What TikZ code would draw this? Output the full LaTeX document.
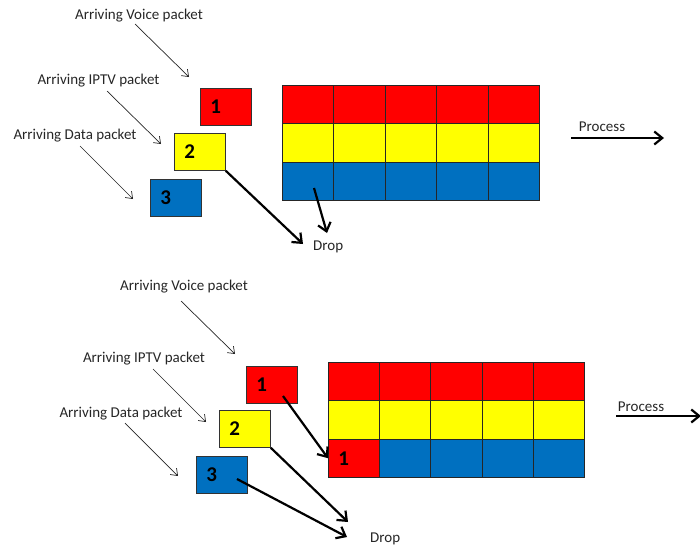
\documentclass[tikz,border=0pt]{standalone}
\usepackage{fontspec}
\setmainfont{Carlito}
\usetikzlibrary{arrows.meta}
\definecolor{pred}{HTML}{FF0000}
\definecolor{pyel}{HTML}{FFFF00}
\definecolor{pblu}{HTML}{0070C0}
\definecolor{txt}{HTML}{262626}
\begin{document}
\begin{tikzpicture}[x=1pt,y=-1pt,
  lbl/.style={font=\fontsize{15}{17}\selectfont, text=txt, inner sep=0pt},
  pkt/.style={draw=black!80, line width=0.8pt, anchor=north west, minimum width=51pt, minimum height=37pt,
     inner xsep=10pt, inner ysep=0pt, text width=31pt, align=left, font=\fontsize{21}{21}\bfseries, text=black},
  cell/.style={draw=black!85, line width=0.9pt, anchor=north west, minimum width=51.4pt, minimum height=38.3pt,
     inner xsep=10pt, inner ysep=0pt, text width=31.4pt, align=left, font=\fontsize{21}{21}\bfseries, text=black},
  thin/.style={line width=0.7pt, draw=txt, -{Straight Barb[length=6pt,width=9pt]}},
  thick/.style={line width=2.2pt, draw=black, -{Straight Barb[length=8pt,width=13pt,line width=2.2pt]}}]
\useasboundingbox (0,0) rectangle (700,546);

% ---------- top diagram ----------
\node[lbl] (tv) at (139,16) {Arriving Voice packet};
\node[lbl] (ti) at (98.5,81) {Arriving IPTV packet};
\node[lbl] (td) at (75,136) {Arriving Data packet};
\coordinate (tvs) at (135,24); \coordinate (tve) at (189,77);
\coordinate (tis) at (107,91); \coordinate (tie) at (161,144);
\coordinate (tds) at (80,146); \coordinate (tde) at (133,199);
\draw[thin] (tvs) -- (tve);
\draw[thin] (tis) -- (tie);
\draw[thin] (tds) -- (tde);

\node[pkt, fill=pred] (t1) at (200,88) {1};
\node[pkt, fill=pyel] (t2) at (174,133) {2};
\node[pkt, fill=pblu] (t3) at (150,179) {3};

\foreach \c in {0,...,4}{
  \node[cell, fill=pred] (ta\c) at (282+\c*51.4,85) {};
  \node[cell, fill=pyel] (tb\c) at (282+\c*51.4,123.3) {};
  \node[cell, fill=pblu] (tc\c) at (282+\c*51.4,161.6) {};
}
\node[lbl, anchor=west] (tdrop) at (313,247) {Drop};
\coordinate (tdropin) at (303,244);
\coordinate (tcellp) at (314,188);
\coordinate (tcelle) at (327,233);
\draw[thick] (t2.south east) -- (tdropin);
\draw[thick] (tcellp) -- (tcelle);

\node[lbl] (tproc) at (602,127) {Process};
\coordinate (tps) at (571,138); \coordinate (tpe) at (664,138);
\draw[thick] (tps) -- (tpe);

% ---------- bottom diagram ----------
\node[lbl] (bv) at (184,287) {Arriving Voice packet};
\node[lbl] (bi) at (144,359) {Arriving IPTV packet};
\node[lbl] (bd) at (121,414) {Arriving Data packet};
\coordinate (bvs) at (181,301); \coordinate (bve) at (235,354);
\coordinate (bis) at (153,369); \coordinate (bie) at (206,422);
\coordinate (bds) at (125,423); \coordinate (bde) at (178,476);
\draw[thin] (bvs) -- (bve);
\draw[thin] (bis) -- (bie);
\draw[thin] (bds) -- (bde);

\node[pkt, fill=pred] (b1) at (246,366) {1};
\node[pkt, fill=pyel] (b2) at (219,410) {2};
\node[pkt, fill=pblu] (b3) at (196,456) {3};

\foreach \c in {0,...,4}{
  \node[cell, fill=pred] (ba\c) at (328+\c*51.2,362) {};
  \node[cell, fill=pyel] (bb\c) at (328+\c*51.2,400.3) {};
}
\node[cell, fill=pred] (bc0) at (328,438.6) {1};
\foreach \c in {1,...,4}{
  \node[cell, fill=pblu] (bc\c) at (328+\c*51.2,438.6) {};
}
\node[lbl, anchor=west] (bdrop) at (370,539) {Drop};
\coordinate (b1p) at (283,396);
\coordinate (b3p) at (237,479);
\coordinate (bdrop1) at (348,522);
\coordinate (bdrop2) at (347,537);
\draw[thick] (b1p) -- (bc0.west);
\draw[thick] (b2.south east) -- (bdrop1);
\draw[thick] (b3p) -- (bdrop2);

\node[lbl] (bproc) at (641,407) {Process};
\coordinate (bps) at (616,416); \coordinate (bpe) at (701,416);
\draw[thick] (bps) -- (bpe);
\end{tikzpicture}
\end{document}
